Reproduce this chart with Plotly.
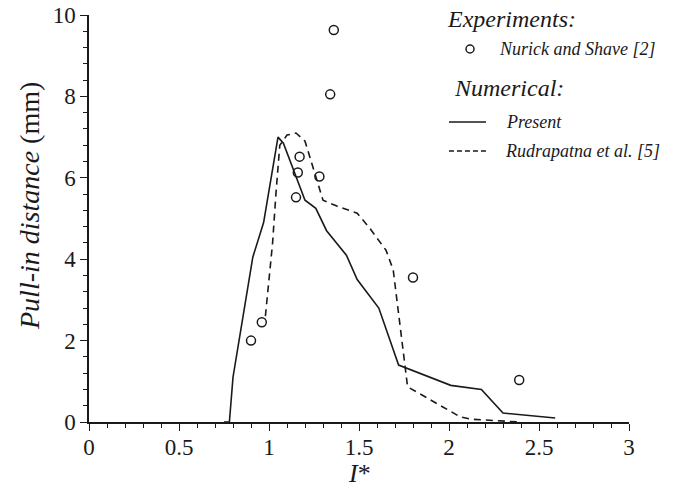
import plotly.graph_objects as go

# Experimental pull-in distances (Nurick and Shave [2])
exp_x = [0.90, 0.96, 1.15, 1.16, 1.17, 1.28, 1.34, 1.36, 1.80, 2.39]
exp_y = [2.00, 2.45, 5.52, 6.13, 6.52, 6.03, 8.05, 9.63, 3.55, 1.03]

# Present numerical model
present_x = [0.75, 0.78, 0.80, 0.91, 0.97, 1.00, 1.05, 1.08, 1.20, 1.26, 1.32,
             1.43, 1.49, 1.61, 1.72, 2.01, 2.18, 2.30, 2.59]
present_y = [0.00, 0.00, 1.10, 4.05, 4.90, 5.70, 7.00, 6.85, 5.45, 5.25, 4.70,
             4.10, 3.50, 2.80, 1.40, 0.90, 0.80, 0.22, 0.10]

# Rudrapatna et al. [5]
rud_x = [0.98, 1.02, 1.04, 1.06, 1.10, 1.15, 1.20, 1.27, 1.30, 1.38, 1.49,
         1.56, 1.65, 1.69, 1.77, 1.82, 2.06, 2.12, 2.39]
rud_y = [2.60, 4.40, 5.70, 6.80, 7.05, 7.10, 6.90, 5.90, 5.45, 5.30, 5.13,
         4.76, 4.22, 3.74, 0.86, 0.74, 0.13, 0.07, 0.00]

x_ticks = [0, 0.5, 1, 1.5, 2, 2.5, 3]
x_ticklabels = ["0", "0.5", "1", "1.5", "2", "2.5", "3"]
y_ticks = [0, 2, 4, 6, 8, 10]
y_ticklabels = ["0", "2", "4", "6", "8", "10"]

SERIF = "Liberation Serif"
INK = "#1a1a1a"

fig = go.Figure()
fig.add_trace(go.Scatter(x=present_x, y=present_y, mode="lines",
                         line=dict(color=INK, width=1.6), cliponaxis=False))
fig.add_trace(go.Scatter(x=rud_x, y=rud_y, mode="lines",
                         line=dict(color=INK, width=1.6, dash="7px,5px"),
                         cliponaxis=False))
fig.add_trace(go.Scatter(x=exp_x, y=exp_y, mode="markers", cliponaxis=False,
                         marker=dict(symbol="circle-open", size=9,
                                     color=INK, line=dict(width=1.5, color=INK))))

axis_common = dict(showline=True, linecolor=INK, linewidth=1.5, mirror=False,
                   showgrid=False, zeroline=False, ticks="outside", ticklen=7,
                   tickwidth=1.4, tickcolor=INK, automargin=False,
                   tickfont=dict(family=SERIF, size=23, color=INK))

fig.update_xaxes(range=[0, 3], tickvals=x_ticks, ticktext=x_ticklabels,
                 ticklabelstandoff=-3,
                 minor=dict(dtick=0.1, ticks="outside", ticklen=4,
                            tickwidth=1.2, tickcolor=INK),
                 **axis_common)
fig.update_yaxes(range=[0, 10], tickvals=y_ticks, ticktext=y_ticklabels,
                 minor=dict(dtick=0.4, ticks="outside", ticklen=4,
                            tickwidth=1.2, tickcolor=INK),
                 **axis_common)

def px(xp):
    return (xp - 89) / 540.0

def py(yp):
    return (422 - yp) / 407.0

ann = []
def label(text, x, y, size, anchor="left", angle=0, yanchor="middle"):
    ann.append(dict(text=text, x=x, y=y, xref="paper", yref="paper",
                    xanchor=anchor, yanchor=yanchor, showarrow=False,
                    textangle=angle, borderpad=0,
                    font=dict(family=SERIF, size=size, color=INK)))

# Axis titles
label("<i>I</i>*", px(359), py(489), 26, anchor="center", yanchor="bottom")
label("<i>Pull-in distance</i> (mm)", px(29), py(206), 28, anchor="center", angle=-90)

# Legend drawn as text blocks with sample marks
label("<i>Experiments:</i>", px(446), py(19), 24)
label("<i>Nurick and Shave [2]</i>", px(498), py(49), 18)
label("<i>Numerical:</i>", px(453), py(88), 24)
label("<i>Present</i>", px(505), py(122), 18)
label("<i>Rudrapatna et al. [5]</i>", px(504), py(151), 18)

shapes = [
    dict(type="circle", xref="paper", yref="paper", xsizemode="pixel",
         ysizemode="pixel", xanchor=px(470), yanchor=py(49),
         x0=-4, x1=4, y0=-4, y1=4, line=dict(color=INK, width=1.5)),
    dict(type="line", xref="paper", yref="paper", x0=px(449), x1=px(486),
         y0=py(122), y1=py(122), line=dict(color=INK, width=1.6)),
    dict(type="line", xref="paper", yref="paper", x0=px(449), x1=px(486),
         y0=py(151), y1=py(151), line=dict(color=INK, width=1.6, dash="5px,3px")),
]

fig.update_layout(width=683, height=489, margin=dict(l=89, r=54, t=15, b=67),
                  paper_bgcolor="white", plot_bgcolor="white", showlegend=False,
                  annotations=ann, shapes=shapes)

fig.write_html("out.html")
